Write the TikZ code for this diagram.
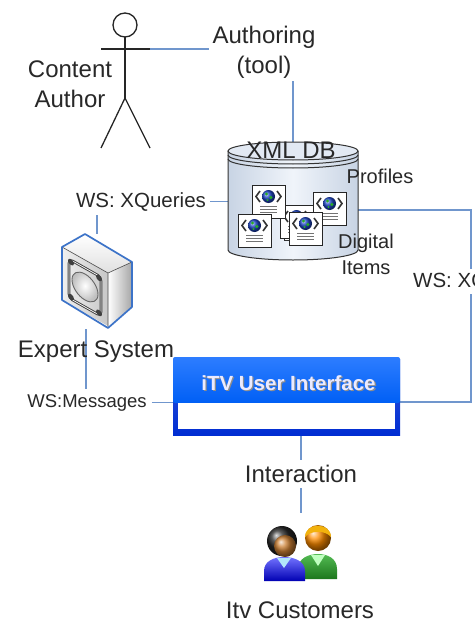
\documentclass[tikz,border=0pt]{standalone}
\usepackage{fontspec}
\setmainfont{Liberation Sans}
\definecolor{wire}{RGB}{112,150,205}
\definecolor{txt}{RGB}{40,40,40}
\definecolor{dbside}{RGB}{200,212,228}
\definecolor{dblight}{RGB}{240,244,250}
\definecolor{dbtop}{RGB}{226,233,243}
\definecolor{uitop}{RGB}{45,125,255}
\definecolor{uimid}{RGB}{0,95,245}
\definecolor{uidark}{RGB}{0,45,210}
\definecolor{exblue}{RGB}{60,115,200}
\definecolor{globe}{RGB}{30,70,200}
\definecolor{leaf}{RGB}{40,170,40}
\begin{document}
\begin{tikzpicture}[x=1pt,y=-1pt,
  lbl/.style={font=\fontsize{24}{30}\selectfont, text=txt, inner sep=3pt, align=center},
  midlbl/.style={font=\fontsize{20}{26}\selectfont, text=txt, inner sep=3pt, align=center},
  wslbl/.style={font=\fontsize{20.5}{24}\selectfont, text=txt, inner sep=4pt},
  conn/.style={draw=wire, line width=1.1pt},
  box/.style={inner sep=0pt, outer sep=0pt},
  xdoc/.pic={
    \fill[white] (0,0) rectangle (33,33);
    \draw[line width=0.9pt, black!85] (0,0) rectangle (33,33);
    \draw[line width=1.6pt, black!80] (8,6) -- (4,11.5) -- (8,17);
    \draw[line width=1.6pt, black!80] (25,6) -- (29,11.5) -- (25,17);
    \shade[ball color=globe] (16.5,11.5) circle[radius=6.5pt];
    \fill[leaf] (14.5,9) circle[radius=1.7pt] (18.8,12.5) circle[radius=1.8pt] (15.5,15) circle[radius=1.2pt];
    \foreach \yy in {21.5,24.5,27.5} \draw[line width=1.2pt, black!55] (8,\yy) -- (25,\yy);
  }]
\useasboundingbox (0,0) rectangle (474,623);
\clip (0,0) rectangle (474,623);
\fill[white] (0,0) rectangle (474,623);

% ---------- nodes ----------
\node[box, minimum width=50pt, minimum height=135pt] (actor) at (125,80) {};
\coordinate (hand) at (150,49);
\node[lbl] (who) at (70,84) {Content\\Author};
\node[lbl] (auth) at (264,52) {Authoring\\(tool)};
\node[box, minimum width=130pt, minimum height=118pt] (db) at (293,201) {};
\node[box, minimum width=70pt, minimum height=95pt] (expert) at (97,281) {};
\node[box, minimum width=227pt, minimum height=78pt] (ui) at (286.5,396) {};
\node[box, minimum width=76pt, minimum height=70pt] (cust) at (301,548) {};
\node[wslbl, anchor=base] (wsx) at (141,207) {WS: XQueries};
\node[wslbl, font=\fontsize{18.5}{22}\selectfont, anchor=base, inner sep=5pt] (wsm) at (87,407) {WS:Messages};
\coordinate (rtop) at (471,210);
\coordinate (rbot) at (471,402);

% ---------- connectors ----------
\draw[conn] (hand) -- (auth.west |- hand);
\draw[conn] (auth.south -| db.north) -- (db.north);
\draw[conn] (wsx.east) -- (wsx.east -| db.west);
\draw[conn] (wsx.south -| expert.north) -- (expert.north);
\draw[conn] (wsm.north -| 86,0) -- (expert.south -| 86,0);
\draw[conn] (wsm.east) -- (wsm.east -| ui.west);
\draw[conn] (db.east |- rtop) -- (rtop) -- (rbot) -- (ui.east |- rbot);
\node[wslbl, anchor=base west, fill=white, inner sep=3pt] (wsr) at (410,287) {WS: XQueries};
\draw[conn] (ui.south -| cust.north) -- node[lbl, fill=white, inner sep=5pt] (inter) {Interaction} (cust.north);

% ---------- stick figure ----------
\begin{scope}[line width=1.3pt, black!85]
  \draw (125,25) circle[radius=12pt];
  \draw (125,37) -- (125,98);
  \draw (101,49) -- (hand);
  \draw (101,148) -- (125,98) -- (150,148);
\end{scope}

% ---------- XML database ----------
\shade[left color=dbside, right color=dbside, middle color=dblight]
  (228,151) -- (228,250) arc[start angle=180, end angle=360, x radius=65pt, y radius=10pt]
  -- (358,151) arc[start angle=0, end angle=180, x radius=65pt, y radius=9pt] -- cycle;
\fill[dbtop] (293,151) ellipse[x radius=65pt, y radius=9pt];
\begin{scope}[line width=1pt, black!80]
  \draw (293,151) ellipse[x radius=65pt, y radius=9pt];
  \draw (228,155) arc[start angle=180, end angle=360, x radius=65pt, y radius=9pt];
  \draw (228,159) arc[start angle=180, end angle=360, x radius=65pt, y radius=9pt];
  \draw (228,151) -- (228,250) arc[start angle=180, end angle=360, x radius=65pt, y radius=10pt] -- (358,151);
\end{scope}
\fill[white] (284,209) rectangle (312,240);
\draw[line width=0.8pt, black!80] (284,209) rectangle (312,240);
\pic at (280,205) {xdoc};
\pic at (252,185) {xdoc};
\pic at (313,192) {xdoc};
\pic at (238,214) {xdoc};
\pic at (289,212) {xdoc};
\node[lbl, anchor=base, inner sep=0pt] (dbname) at (291,158) {XML DB};
\node[midlbl, anchor=base] (prof) at (380,183) {Profiles};
\node[midlbl] (items) at (366,254) {Digital\\Items};

% ---------- expert system ----------
\shade[top color=white, bottom color=black!12] (62,247) -- (85,234) -- (132,262) -- (108,273) -- cycle;
\shade[left color=white, right color=black!35] (108,273) -- (132,262) -- (132,307) -- (108,328) -- cycle;
\begin{scope}[shift={(62,247)}, yslant=-0.565]
  \shade[left color=black!6, right color=black!22] (0,0) rectangle (46,53);
  \shade[inner color=white, outer color=black!25] (23,27) circle[radius=13pt];
  \draw[black!60, line width=0.9pt] (23,27) circle[radius=13pt];
  \draw[black!75, line width=2.6pt, rounded corners=4pt] (7,8) rectangle (39,47);
  \draw[white, line width=0.7pt, rounded corners=4pt] (7,8) rectangle (39,47);
  \foreach \p in {(9,10),(37,10),(9,45),(37,45)}
    \fill[black!75] \p circle[radius=3pt];
\end{scope}
\draw[black!70, line width=0.6pt] (62,247) -- (108,273) -- (132,262) (108,273) -- (108,328);
\draw[exblue, line width=1.7pt, line join=round] (62,247) -- (85,234) -- (132,262) -- (132,307) -- (108,328) -- (62,300) -- cycle;
\node[lbl, anchor=base, inner sep=0pt] (exname) at (96,357) {Expert System};

% ---------- iTV user interface ----------
\shade[top color=uidark!80, bottom color=uidark] ([yshift=-2pt]ui.north west) rectangle (ui.south east);
\shade[top color=uitop, bottom color=uimid, rounded corners=2pt] (ui.north west) rectangle (400,403);
\fill[white] (178,403) rectangle (395,429);
\node[font=\fontsize{20.5}{24}\selectfont\bfseries, text=black!45, inner sep=0pt] at (289.8,384) {iTV User Interface};
\node[font=\fontsize{20.5}{24}\selectfont\bfseries, text=white!92!blue, inner sep=0pt] (uiname) at (288.5,383) {iTV User Interface};

% ---------- customers ----------
\shade[top color=leaf!80!white, bottom color=leaf!70!black]
  (298,579) -- (298,569) .. controls (298,558) and (309,554) .. (318,554)
  .. controls (327,554) and (337,558) .. (337,569) -- (337,579) -- cycle;
\fill[green!25!white] (311,555) -- (318,566) -- (325,555) -- cycle;
\shade[ball color=orange!90!yellow] (318,538) circle[radius=13pt];
\fill[orange!50!yellow!80!brown] (305,537) .. controls (305,522) and (331,522) .. (331,537)
  .. controls (325,530) and (311,530) .. cycle;
\shade[top color=blue!55!white, bottom color=blue!70!black]
  (264,581) -- (264,571) .. controls (264,561) and (274,557) .. (284,557)
  .. controls (294,557) and (305,561) .. (305,571) -- (305,581) -- cycle;
\fill[cyan!30!white] (277,558) -- (284,568) -- (291,558) -- cycle;
\shade[ball color=black!85] (282,541) circle[radius=15pt];
\shade[ball color=brown!80!orange] (285,546) circle[radius=11pt];
\node[lbl, anchor=base, inner sep=0pt] (custname) at (300,618) {Itv Customers};
\end{tikzpicture}
\end{document}
